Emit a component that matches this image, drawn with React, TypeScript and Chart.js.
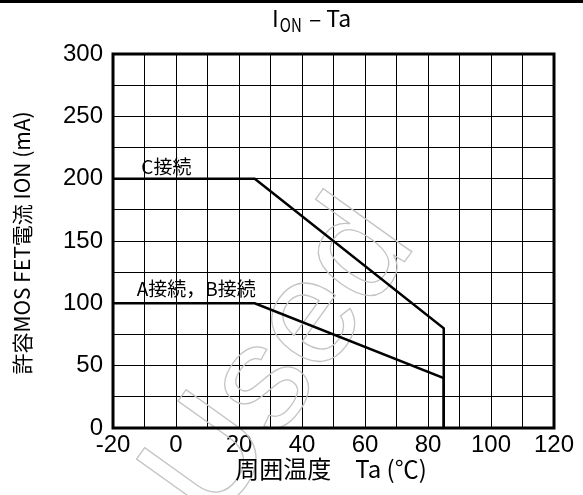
import React, { useEffect, useRef } from "react";
import { Chart, registerables } from "chart.js";

Chart.register(...registerables);

// ---- data ----
const cTa = [-20, 25, 85, 85];
const cIon = [200, 200, 80, 0];
const abTa = [-20, 25, 85, 85];
const abIon = [100, 100, 40, 0];

const xMin = -20;
const xMax = 120;
const xGridStep = 10;
const xLabelStep = 20;
const yMin = 0;
const yMax = 300;
const yGridStep = 25;
const yLabelStep = 50;

const chartTitleMain = "I";
const chartTitleSub = "ON";
const chartTitleRest = " – Ta";
const yTitle = "許容MOS FET電流 ION (mA)";
const xTitle = "周囲温度　Ta (℃)";
const labelC = "C接続";
const labelAB = "A接続，B接続";
const watermark = "Used";

const W = 583;
const H = 495;

const toPts = (xs: number[], ys: number[]) => xs.map((x, i) => ({ x, y: ys[i] }));

const overlay = {
  id: "overlay",
  beforeDraw(chart: any) {
    const ctx = chart.ctx;
    ctx.save();
    ctx.fillStyle = "#fff";
    ctx.fillRect(0, 0, chart.width, chart.height);
    ctx.restore();
  },
  beforeDatasetsDraw(chart: any) {
    const ctx = chart.ctx;
    // watermark (behind the curves)
    ctx.save();
    ctx.translate(282, 362);
    ctx.rotate(-0.95);
    ctx.strokeStyle = "#c4c4c4";
    ctx.lineWidth = 1.3;
    ctx.font = '150px "Liberation Sans"';
    ctx.textAlign = "center";
    ctx.textBaseline = "middle";
    ctx.strokeText(watermark, 0, 0);
    ctx.restore();
  },
  afterDraw(chart: any) {
    const ctx = chart.ctx;
    const a = chart.chartArea;
    const xs = chart.scales.x;
    const ys = chart.scales.y;
    ctx.save();
    // top rule
    ctx.fillStyle = "#000";
    ctx.fillRect(0, 0, chart.width, 3);
    // frame
    ctx.strokeStyle = "#000";
    ctx.lineWidth = 3;
    ctx.strokeRect(a.left, a.top, a.right - a.left, a.bottom - a.top);

    ctx.fillStyle = "#000";
    // annotations
    ctx.font = '19px "Noto Sans CJK JP"';
    ctx.textAlign = "left";
    ctx.textBaseline = "alphabetic";
    ctx.fillText(labelC, xs.getPixelForValue(-11), ys.getPixelForValue(204), 56);
    ctx.fillText(labelAB, xs.getPixelForValue(-12.5), ys.getPixelForValue(106), 138);

    // title
    ctx.font = '23px "Noto Sans CJK JP"';
    ctx.textBaseline = "alphabetic";
    let tx = 272;
    const ty = 27;
    ctx.fillText(chartTitleMain, tx, ty);
    tx += ctx.measureText(chartTitleMain).width + 1;
    ctx.font = '19px "Noto Sans CJK JP"';
    ctx.fillText(chartTitleSub, tx, ty + 5, 22);
    tx += 24;
    ctx.font = '23px "Noto Sans CJK JP"';
    ctx.fillText(chartTitleRest, tx, ty, 52);

    // y title
    ctx.save();
    ctx.translate(22, 243);
    ctx.rotate(-Math.PI / 2);
    ctx.font = '21px "Noto Sans CJK JP"';
    ctx.textAlign = "center";
    ctx.textBaseline = "middle";
    ctx.fillText(yTitle, 0, 0, 282);
    ctx.restore();

    // x title
    ctx.font = '24px "Noto Sans CJK JP"';
    ctx.textAlign = "center";
    ctx.textBaseline = "middle";
    ctx.fillText(xTitle, 331, 469, 200);

    ctx.restore();
  },
};

export default function App() {
  const ref = useRef<HTMLCanvasElement | null>(null);
  useEffect(() => {
    if (!ref.current) return;
    const chart = new Chart(ref.current, {
      type: "scatter",
      data: {
        datasets: [
          {
            label: labelC,
            data: toPts(cTa, cIon),
            showLine: true,
            borderColor: "#000",
            borderWidth: 2.5,
            pointRadius: 0,
            fill: false,
          },
          {
            label: labelAB,
            data: toPts(abTa, abIon),
            showLine: true,
            borderColor: "#000",
            borderWidth: 2.5,
            pointRadius: 0,
            fill: false,
          },
        ],
      },
      options: {
        responsive: false,
        animation: false,
        layout: { padding: { left: 0, top: 54, right: 29, bottom: 0 } },
        plugins: {
          legend: { display: false },
          tooltip: { enabled: false },
          title: { display: false },
        },
        scales: {
          x: {
            type: "linear",
            min: xMin,
            max: xMax,
            afterFit: (s: any) => {
              s.height = 67;
            },
            ticks: {
              stepSize: xGridStep,
              autoSkip: false,
              maxRotation: 0,
              padding: 3,
              color: "#000",
              font: { family: '"Liberation Sans", Arial', size: 24 },
              callback: (v: any) => (Number(v) % xLabelStep === 0 ? String(v) : ""),
            },
            grid: { color: "#000", lineWidth: 1, drawTicks: false },
            border: { display: false },
          },
          y: {
            type: "linear",
            min: yMin,
            max: yMax,
            afterFit: (s: any) => {
              s.width = 113;
            },
            ticks: {
              stepSize: yGridStep,
              autoSkip: false,
              padding: 10,
              color: "#000",
              font: { family: '"Liberation Sans", Arial', size: 24 },
              callback: (v: any) => (Number(v) % yLabelStep === 0 ? String(v) : ""),
            },
            grid: { color: "#000", lineWidth: 1, drawTicks: false },
            border: { display: false },
          },
        },
      },
      plugins: [overlay],
    });
    return () => chart.destroy();
  }, []);
  return (
    <div style={{ position: "absolute", left: 0, top: 0, width: W, height: H }}>
      <canvas ref={ref} width={W} height={H} style={{ display: "block", width: W, height: H }} />
    </div>
  );
}
